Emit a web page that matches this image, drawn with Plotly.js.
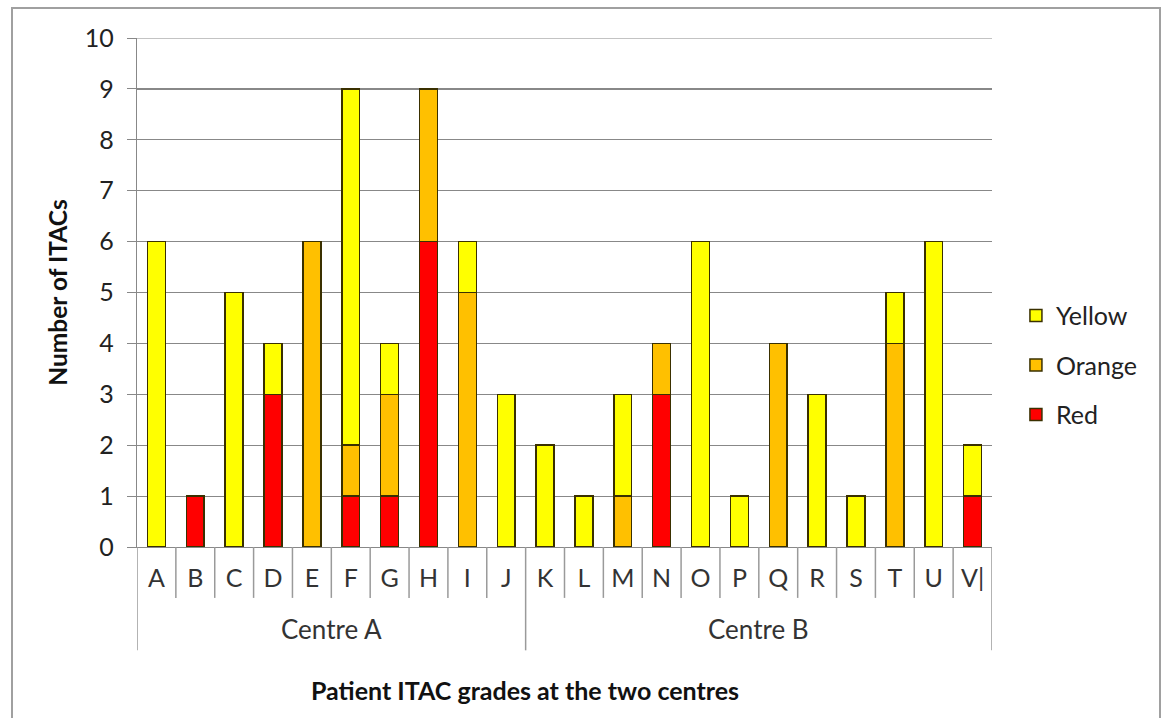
<!DOCTYPE html>
<html>
<head>
<meta charset="utf-8">
<script src="https://cdn.plot.ly/plotly-3.0.1.min.js"></script>
<style>html,body{margin:0;padding:0;background:#fff;}#chart{width:1161px;height:718px;}</style>
</head>
<body>
<div id="chart"></div>
<script>
const centres = ["Centre A","Centre A","Centre A","Centre A","Centre A","Centre A","Centre A","Centre A","Centre A","Centre A",
                 "Centre B","Centre B","Centre B","Centre B","Centre B","Centre B","Centre B","Centre B","Centre B","Centre B","Centre B","Centre B"];
const patients = ["A","B","C","D","E","F","G","H","I","J","K","L","M","N","O","P","Q","R","S","T","U","V|"];
const red    = [0,1,0,3,0,1,1,6,0,0, 0,0,0,3,0,0,0,0,0,0,0,1];
const orange = [0,0,0,0,6,1,2,3,5,0, 0,0,1,1,0,0,4,0,0,4,0,0];
const yellow = [6,0,5,1,0,7,1,0,1,3, 2,1,2,0,6,1,0,3,1,1,6,1];

const n = patients.length;
const idx = patients.map((p, i) => i);
const lineStyle = {color:'#3a3000', width:1.5};
const traces = [
  {type:'bar', name:'Red', x:idx, y:red, legendgroup:'r', legendrank:3, marker:{color:'#FF0000', line:lineStyle}},
  {type:'bar', name:'Orange', x:idx, y:orange, legendgroup:'o', legendrank:2, marker:{color:'#FFC000', line:lineStyle}},
  {type:'bar', name:'Yellow', x:idx, y:yellow, legendgroup:'y', legendrank:1, marker:{color:'#FFFF00', line:lineStyle}}
];

// separators and group labels built from the category arrays
const sepColor = '#9a9a9a';
const shapes = [];
for (let i = 0; i <= n; i++) {
  const isGroupEdge = (i === 0 || i === n || centres[i] !== centres[i - 1]);
  shapes.push({type:'line', xref:'x', yref:'paper', x0:i - 0.5, x1:i - 0.5,
               y0:0, y1:isGroupEdge ? -0.203 : -0.1, line:{color:sepColor, width:1.5}});
}
shapes.push({type:'line', xref:'paper', yref:'y', x0:0, x1:1, y0:10, y1:10, line:{color:'#888', width:1.2}});
shapes.push({type:'rect', xref:'paper', yref:'paper', x0:-0.1462, x1:1.1965, y0:-0.36, y1:1.0587,
             line:{color:'#a0a0a0', width:2}, fillcolor:'rgba(0,0,0,0)', layer:'below'});

const font = "Lato, 'Open Sans', sans-serif";
const annotations = [];
const groups = [...new Set(centres)];
groups.forEach(g => {
  const first = centres.indexOf(g), last = centres.lastIndexOf(g);
  annotations.push({xref:'x', yref:'paper', x:(first + last) / 2, y:-0.161, xanchor:'center', yanchor:'middle',
                    text:g, showarrow:false, font:{size:26, color:'#333'}});
});
annotations.push({xref:'paper', yref:'paper', x:0.454, y:-0.28, xanchor:'center', yanchor:'middle',
                  text:'<b>Patient ITAC grades at the two centres</b>', showarrow:false,
                  font:{size:25, color:'#111'}});

const layout = {
  width:1161, height:718,
  margin:{l:137, r:169, t:38, b:171},
  barmode:'stack', bargap:0.54,
  paper_bgcolor:'#fff', plot_bgcolor:'#fff',
  font:{family:font, size:22, color:'#222'},
  showlegend:true,
  legend:{x:1.028, y:0.357, xanchor:'left', yanchor:'middle', traceorder:'grouped', tracegroupgap:14,
          font:{size:25, color:'#222'}, bgcolor:'rgba(0,0,0,0)'},
  xaxis:{type:'linear', range:[-0.5, n - 0.5], tickmode:'array', tickvals:idx, ticktext:patients,
         showgrid:false, zeroline:false, showline:true, linecolor:'#888', linewidth:1.2,
         ticks:'', ticklabelstandoff:9, tickfont:{size:25, color:'#333'}},
  yaxis:{range:[0,10], dtick:1, showgrid:true, gridcolor:'#888', gridwidth:1.2,
         showline:true, linecolor:'#888', linewidth:1.2, ticks:'outside', ticklen:9, tickcolor:'#888',
         ticklabelstandoff:8, zeroline:false, tickfont:{size:25, color:'#222'},
         title:{text:'<b>Number of ITACs</b>', font:{size:24.5, color:'#111'}, standoff:10}},
  annotations:annotations,
  shapes:shapes
};
Plotly.newPlot('chart', traces, layout, {displayModeBar:false, staticPlot:true});
</script>
</body>
</html>
